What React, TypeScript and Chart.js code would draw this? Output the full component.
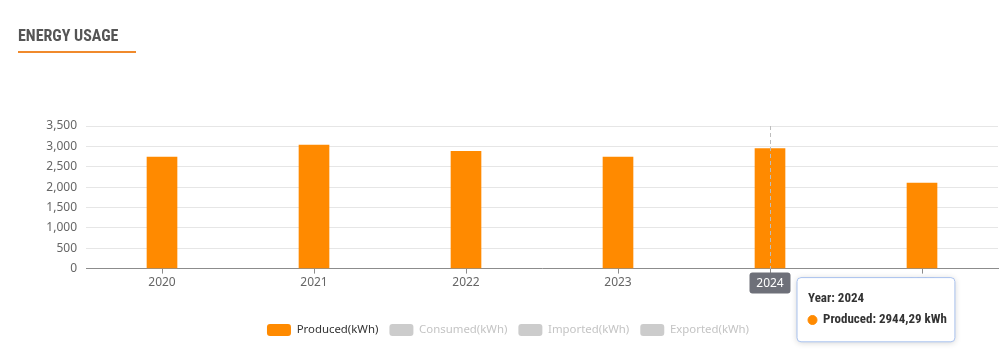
import React, { useEffect, useRef } from "react";
import { Chart, registerables, Tooltip } from "chart.js";

Chart.register(...registerables);

const years = ["2020", "2021", "2022", "2023", "2024", "2025"];
const produced = [2736, 3032, 2878, 2738, 2944.29, 2096];
const consumed: number[] = [];
const imported: number[] = [];
const exported: number[] = [];
const seriesNames = ["Produced(kWh)", "Consumed(kWh)", "Imported(kWh)", "Exported(kWh)"];
const yTicks = [0, 500, 1000, 1500, 2000, 2500, 3000, 3500];
const activeIndex = 4;

const ORANGE = "#ff8a00";
const GREY_BOX = "#cccccc";
const FONT = "'Noto Sans', 'Open Sans', sans-serif";
const NARROW = "'Liberation Sans Narrow', 'Roboto Condensed', 'DejaVu Sans Condensed', Roboto, sans-serif";

(Tooltip.positioners as any).besideBar = function (elements: any[]) {
  if (!elements.length) return false;
  const el = elements[0].element;
  const chart = (this as any).chart;
  return { x: el.x + 31, y: chart.chartArea.bottom + 9, xAlign: "left", yAlign: "top" };
};

const axisPointer = {
  id: "axisPointer",
  afterDatasetsDraw(chart: any) {
    const { ctx, chartArea, scales } = chart;
    const x = scales.x.getPixelForValue(activeIndex);
    ctx.save();
    ctx.strokeStyle = "#bdbdbd";
    ctx.lineWidth = 1;
    ctx.setLineDash([4, 3]);
    ctx.beginPath();
    ctx.moveTo(Math.round(x) + 0.5, chartArea.top);
    ctx.lineTo(Math.round(x) + 0.5, chartArea.bottom);
    ctx.stroke();
    ctx.restore();
  },
  beforeTooltipDraw(chart: any, args: any) {
    const tt = args.tooltip;
    if (!tt || !tt.opacity) return;
    const { ctx } = chart;
    ctx.save();
    ctx.shadowColor = "rgba(0,0,0,0.18)";
    ctx.shadowBlur = 6;
    ctx.shadowOffsetX = 0;
    ctx.shadowOffsetY = 1;
    ctx.fillStyle = "#ffffff";
    ctx.beginPath();
    (ctx as any).roundRect(tt.x, tt.y, tt.width, tt.height, 4);
    ctx.fill();
    ctx.restore();
  },
  afterDraw(chart: any) {
    const { ctx, chartArea, scales } = chart;
    const x = scales.x.getPixelForValue(activeIndex);
    const w = 41;
    const h = 21;
    const top = chartArea.bottom + 4;
    ctx.save();
    ctx.fillStyle = "#6e7079";
    ctx.beginPath();
    (ctx as any).roundRect(x - w / 2, top, w, h, 3);
    ctx.fill();
    ctx.fillStyle = "#ffffff";
    ctx.font = `12px ${FONT}`;
    ctx.textAlign = "center";
    ctx.textBaseline = "middle";
    ctx.fillText(years[activeIndex], x, top + h / 2 + 0.5);
    ctx.restore();
  },
};

export default function App() {
  const ref = useRef<HTMLCanvasElement>(null);

  useEffect(() => {
    if (!ref.current) return;
    const chart = new Chart(ref.current, {
      type: "bar",
      data: {
        labels: years,
        datasets: [
          {
            label: seriesNames[0],
            data: produced,
            backgroundColor: ORANGE,
            hoverBackgroundColor: ORANGE,
            barThickness: 30,
          },
          { label: seriesNames[1], data: consumed, backgroundColor: GREY_BOX, hidden: true, barThickness: 30 },
          { label: seriesNames[2], data: imported, backgroundColor: GREY_BOX, hidden: true, barThickness: 30 },
          { label: seriesNames[3], data: exported, backgroundColor: GREY_BOX, hidden: true, barThickness: 30 },
        ],
      },
      options: {
        animation: false,
        responsive: false,
        events: [],
        layout: { padding: { left: 18, right: 2, top: 126, bottom: 14 } },
        scales: {
          x: {
            afterFit: (scale: any) => {
              scale.height += 21;
            },
            grid: {
              display: true,
              drawOnChartArea: false,
              drawTicks: true,
              tickLength: 5,
              color: "#8c8c8c",
              offset: false,
            },
            border: { display: true, color: "#8c8c8c", width: 1 },
            ticks: { color: "#666", font: { family: FONT, size: 12 }, padding: 2 },
          },
          y: {
            min: 0,
            max: 3500,
            afterBuildTicks: (scale: any) => {
              scale.ticks = yTicks.map((v) => ({ value: v }));
            },
            afterFit: (scale: any) => {
              scale.width = 68;
            },
            grid: { color: "#e6e6e6", drawTicks: false },
            border: { display: false },
            ticks: {
              color: "#666",
              font: { family: FONT, size: 12 },
              padding: 9,
              callback: (v: any) => Number(v).toLocaleString("en-US"),
            },
          },
        },
        plugins: {
          legend: {
            position: "bottom",
            labels: {
              boxWidth: 24,
              boxHeight: 12,
              padding: 11,
              useBorderRadius: true,
              borderRadius: 3,
              font: { family: FONT, size: 11.4 },
              generateLabels: (ch: any) =>
                ch.data.datasets.map((ds: any, i: number) => ({
                  text: ds.label,
                  fillStyle: i === 0 ? ORANGE : GREY_BOX,
                  strokeStyle: i === 0 ? ORANGE : GREY_BOX,
                  lineWidth: 0,
                  hidden: false,
                  fontColor: i === 0 ? "#333" : "#c4c4c4",
                  datasetIndex: i,
                  borderRadius: 3,
                })),
            },
          },
          tooltip: {
            enabled: true,
            position: "besideBar" as any,
            xAlign: "left",
            yAlign: "top",
            caretSize: 0,
            caretPadding: 0,
            backgroundColor: "#ffffff",
            borderColor: "#a9c2ee",
            borderWidth: 1,
            cornerRadius: 4,
            padding: { top: 13, bottom: 14, left: 11, right: 8 },
            titleColor: "#333",
            bodyColor: "#333",
            titleFont: { family: NARROW, size: 13, weight: "bold" },
            bodyFont: { family: NARROW, size: 13, weight: "bold" },
            titleMarginBottom: 6,
            usePointStyle: true,
            boxWidth: 9,
            boxHeight: 9,
            boxPadding: 4,
            callbacks: {
              title: (items: any[]) => `Year: ${items[0].label}`,
              label: (item: any) =>
                `Produced: ${Number(item.raw).toFixed(2).replace(".", ",")} kWh`,
              labelColor: () => ({ borderColor: ORANGE, backgroundColor: ORANGE, borderWidth: 0 }),
              labelPointStyle: () => ({ pointStyle: "circle", rotation: 0 }),
            },
          },
        },
      },
      plugins: [axisPointer],
    } as any);

    const el = chart.getDatasetMeta(0).data[activeIndex] as any;
    chart.setActiveElements([{ datasetIndex: 0, index: activeIndex }]);
    chart.tooltip!.setActiveElements([{ datasetIndex: 0, index: activeIndex }], { x: el.x, y: el.y });
    chart.update();

    return () => chart.destroy();
  }, []);

  return (
    <div style={{ position: "fixed", left: 0, top: 0, width: 1000, height: 360, background: "#fff" }}>
      <canvas ref={ref} width={1000} height={360} style={{ position: "absolute", left: 0, top: 0 }} />
      <div
        style={{
          position: "absolute",
          left: 18,
          top: 26,
          fontFamily: NARROW,
          fontWeight: 700,
          fontSize: 16,
          color: "#555",
          lineHeight: "19px",
          whiteSpace: "nowrap",
        }}
      >
        ENERGY USAGE
      </div>
      <div style={{ position: "absolute", left: 18, top: 51, width: 118, height: 2, background: "#f08a2c" }} />
    </div>
  );
}
